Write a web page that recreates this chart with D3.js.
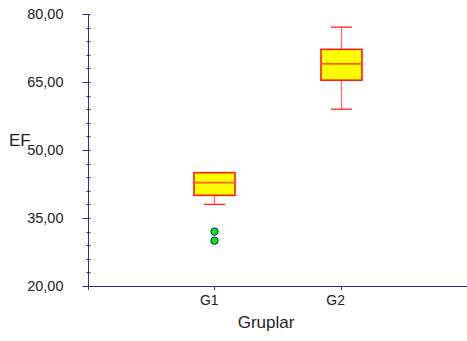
<!DOCTYPE html>
<html>
<head>
<meta charset="utf-8">
<script src="https://cdn.jsdelivr.net/npm/d3@7"></script>
<style>
  body { margin: 0; background: #fff; }
  text { font-family: "Liberation Sans", Arial, sans-serif; fill: #222; }
</style>
</head>
<body>
<script>
// data
var groups = ["G1", "G2"];
var mins = [38.0, 59.0];
var q1s = [40.0, 65.4];
var medians = [42.8, 69.0];
var q3s = [45.0, 72.2];
var maxs = [45.0, 77.1];
var outliers = [[32.0, 30.0], []];
var yTicks = [20, 35, 50, 65, 80];

var width = 467, height = 341;
var axisColor = "#2a2aa0";

var svg = d3.select("body").append("svg")
  .attr("width", width)
  .attr("height", height);

var x = d3.scaleLinear().domain([0, 3]).range([88, 467]);
var y = d3.scaleLinear().domain([20, 80]).range([286, 14]);

// y axis
var yAxis = svg.append("g").attr("transform", "translate(88.5,0)");
yAxis.append("line")
  .attr("x1", 0).attr("x2", 0)
  .attr("y1", y(80)).attr("y2", y(20) + 4)
  .attr("stroke", axisColor);
yAxis.selectAll(".minor")
  .data(d3.range(20, 80.01, 3))
  .enter().append("line")
  .attr("x1", -2).attr("x2", 2)
  .attr("y1", function(d) { return Math.round(y(d)) + 0.5; })
  .attr("y2", function(d) { return Math.round(y(d)) + 0.5; })
  .attr("stroke", axisColor);
yAxis.selectAll(".major")
  .data(yTicks)
  .enter().append("line")
  .attr("x1", -6).attr("x2", 0)
  .attr("y1", function(d) { return Math.round(y(d)) + 0.5; })
  .attr("y2", function(d) { return Math.round(y(d)) + 0.5; })
  .attr("stroke", axisColor);
yAxis.selectAll(".lbl")
  .data(yTicks)
  .enter().append("text")
  .attr("x", -25)
  .attr("y", function(d) { return y(d); })
  .attr("dy", "0.36em")
  .attr("text-anchor", "end")
  .style("font-size", "14.5px")
  .text(function(d) { return d3.format(".2f")(d).replace(".", ","); });

svg.append("text")
  .attr("x", 9).attr("y", 146)
  .style("font-size", "17px")
  .text("EF");

// x axis
svg.append("line")
  .attr("x1", 88).attr("x2", 467)
  .attr("y1", y(20) + 0.5).attr("y2", y(20) + 0.5)
  .attr("stroke", axisColor);
svg.selectAll(".xtick")
  .data(groups)
  .enter().append("line")
  .attr("x1", function(d, i) { return Math.round(x(i + 1)) + 0.5; })
  .attr("x2", function(d, i) { return Math.round(x(i + 1)) + 0.5; })
  .attr("y1", y(20)).attr("y2", y(20) + 4)
  .attr("stroke", axisColor);
svg.selectAll(".xlbl")
  .data(groups)
  .enter().append("text")
  .attr("x", function(d, i) { return x(i + 1) - 5; })
  .attr("y", 305)
  .attr("text-anchor", "middle")
  .style("font-size", "14px")
  .text(function(d) { return d; });
svg.append("text")
  .attr("x", 266).attr("y", 328)
  .attr("text-anchor", "middle")
  .style("font-size", "17px")
  .text("Gruplar");

// boxes
var boxW = 41, capW = 21;
groups.forEach(function(g, i) {
  var cx = Math.round(x(i + 1)) + 0.5;
  // whiskers
  svg.append("line")
    .attr("x1", cx).attr("x2", cx)
    .attr("y1", y(maxs[i])).attr("y2", y(q3s[i]))
    .attr("stroke", "#ff7070")
    .attr("stroke-width", 1.4);
  svg.append("line")
    .attr("x1", cx).attr("x2", cx)
    .attr("y1", y(q1s[i])).attr("y2", y(mins[i]))
    .attr("stroke", "#ff7070")
    .attr("stroke-width", 1.4);
  [mins[i], maxs[i]].forEach(function(v) {
    if (v === q3s[i]) return;
    svg.append("line")
      .attr("x1", cx - capW / 2).attr("x2", cx + capW / 2)
      .attr("y1", y(v)).attr("y2", y(v))
      .attr("stroke", "#ff2020")
      .attr("stroke-width", 1.3);
  });
  svg.append("rect")
    .attr("x", cx - boxW / 2)
    .attr("y", y(q3s[i]))
    .attr("width", boxW)
    .attr("height", y(q1s[i]) - y(q3s[i]))
    .attr("fill", "#ffff00")
    .attr("stroke", "#ff1a1a")
    .attr("stroke-width", 1.6);
  svg.append("line")
    .attr("x1", cx - boxW / 2).attr("x2", cx + boxW / 2)
    .attr("y1", y(medians[i])).attr("y2", y(medians[i]))
    .attr("stroke", "#ff6000")
    .attr("stroke-width", 1.6);
  svg.selectAll(".out" + i)
    .data(outliers[i])
    .enter().append("circle")
    .attr("cx", cx)
    .attr("cy", function(d) { return y(d); })
    .attr("r", 3.7)
    .attr("fill", "#00ee00")
    .attr("stroke", "#1a1a90")
    .attr("stroke-width", 1);
});
</script>
</body>
</html>
